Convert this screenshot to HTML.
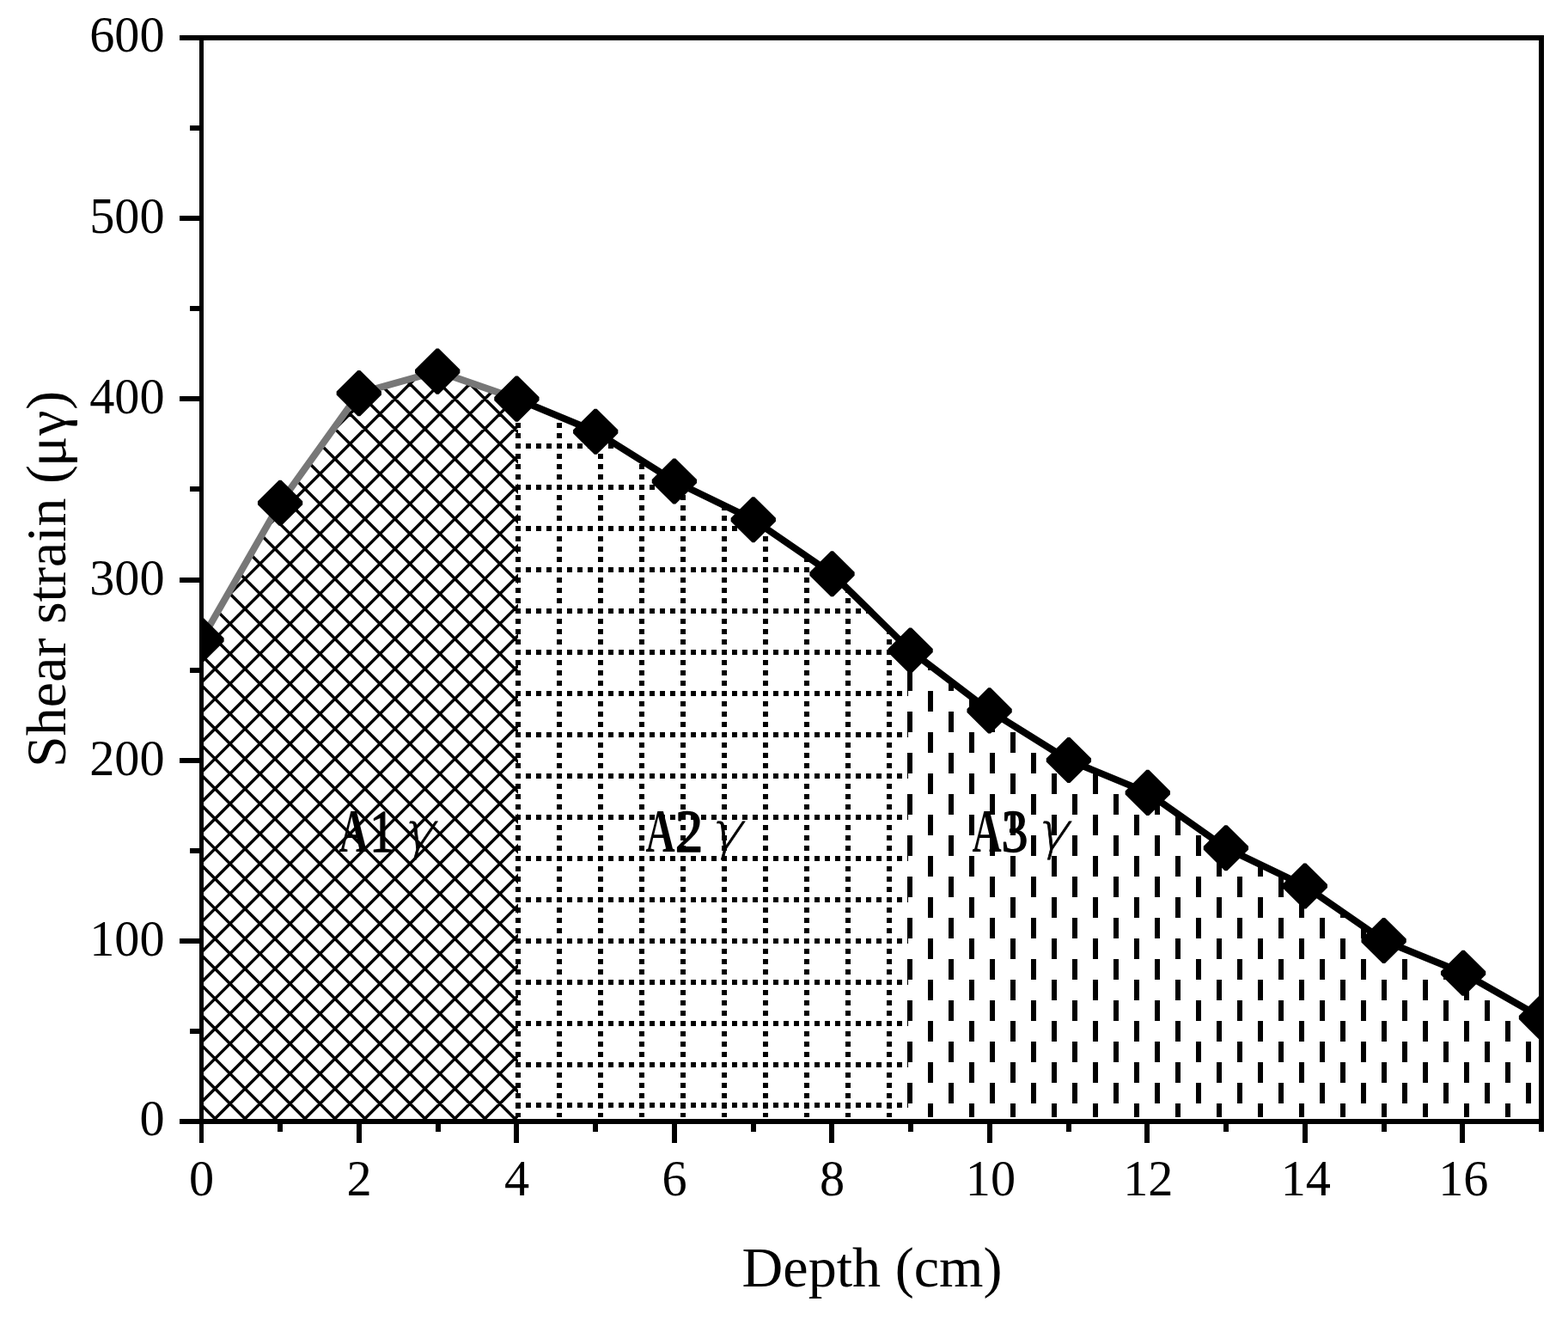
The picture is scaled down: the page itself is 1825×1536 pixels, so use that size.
<!DOCTYPE html>
<html lang="en"><head><meta charset="utf-8"><title>Shear strain vs depth</title>
<style>
html,body{margin:0;padding:0;background:#fff;}
body{width:1825px;height:1536px;overflow:hidden;}
svg{display:block;}
text{font-family:"Liberation Serif", serif;fill:#000;}
</style></head><body>
<svg width="1825" height="1536" viewBox="0 0 1825 1536">
<rect width="1825" height="1536" fill="#fff"/>
<defs>
<clipPath id="c1"><polygon points="234.5,1303.0 234.5,744.6 326.1,585.3 417.8,457.6 509.2,432.1 603.0,464.1 603.0,1303.0"/></clipPath>
<clipPath id="c2"><polygon points="600.0,1300.0 600.0,464.1 693.2,502.3 784.9,560.0 876.8,604.7 968.5,667.7 1057.0,757.0 1057.0,1300.0"/></clipPath>
<clipPath id="c3"><polygon points="1056.0,1300.0 1056.0,757.0 1151.6,826.9 1243.9,884.5 1335.8,922.4 1426.9,986.8 1518.8,1031.0 1610.6,1094.5 1703.1,1132.2 1794.0,1184.1 1794.0,1300.0"/></clipPath>
<clipPath id="cp"><rect x="232.0" y="44.0" width="1565.0" height="1261.0"/></clipPath>
</defs>
<g clip-path="url(#c1)"><path d="M200,-39.85L640,400.15M200,-4.95L640,435.05M200,29.95L640,469.95M200,64.85L640,504.85M200,99.75L640,539.75M200,134.65L640,574.65M200,169.55L640,609.55M200,204.45L640,644.45M200,239.35L640,679.35M200,274.25L640,714.25M200,309.15L640,749.15M200,409.65L640,-30.35M200,344.05L640,784.05M200,444.55L640,4.55M200,378.95L640,818.95M200,479.45L640,39.45M200,413.85L640,853.85M200,514.35L640,74.35M200,448.75L640,888.75M200,549.25L640,109.25M200,483.65L640,923.65M200,584.15L640,144.15M200,518.55L640,958.55M200,619.05L640,179.05M200,553.45L640,993.45M200,653.95L640,213.95M200,588.35L640,1028.35M200,688.85L640,248.85M200,623.25L640,1063.25M200,723.75L640,283.75M200,658.15L640,1098.15M200,758.65L640,318.65M200,693.05L640,1133.05M200,793.55L640,353.55M200,727.95L640,1167.95M200,828.45L640,388.45M200,762.85L640,1202.85M200,863.35L640,423.35M200,797.75L640,1237.75M200,898.25L640,458.25M200,832.65L640,1272.65M200,933.15L640,493.15M200,867.55L640,1307.55M200,968.05L640,528.05M200,902.45L640,1342.45M200,1002.95L640,562.95M200,937.35L640,1377.35M200,1037.85L640,597.85M200,972.25L640,1412.25M200,1072.75L640,632.75M200,1007.15L640,1447.15M200,1107.65L640,667.65M200,1042.05L640,1482.05M200,1142.55L640,702.55M200,1076.95L640,1516.95M200,1177.45L640,737.45M200,1111.85L640,1551.85M200,1212.35L640,772.35M200,1146.75L640,1586.75M200,1247.25L640,807.25M200,1181.65L640,1621.65M200,1282.15L640,842.15M200,1216.55L640,1656.55M200,1317.05L640,877.05M200,1251.45L640,1691.45M200,1351.95L640,911.95M200,1286.35L640,1726.35M200,1386.85L640,946.85M200,1321.25L640,1761.25M200,1421.75L640,981.75M200,1456.65L640,1016.65M200,1491.55L640,1051.55M200,1526.45L640,1086.45M200,1561.35L640,1121.35M200,1596.25L640,1156.25M200,1631.15L640,1191.15M200,1666.05L640,1226.05M200,1700.95L640,1260.95M200,1735.85L640,1295.85M200,1770.75L640,1330.75" fill="none" stroke="#000" stroke-width="3.5"/></g>
<g clip-path="url(#c2)" shape-rendering="crispEdges" fill="none" stroke="#000" stroke-width="6"><rect x="600" y="1295" width="6" height="2" fill="#000" stroke="none"/><rect x="648" y="1295" width="6" height="2" fill="#000" stroke="none"/><rect x="696" y="1295" width="6" height="2" fill="#000" stroke="none"/><rect x="744" y="1295" width="6" height="2" fill="#000" stroke="none"/><rect x="792" y="1295" width="6" height="2" fill="#000" stroke="none"/><rect x="840" y="1295" width="6" height="2" fill="#000" stroke="none"/><rect x="888" y="1295" width="6" height="2" fill="#000" stroke="none"/><rect x="936" y="1295" width="6" height="2" fill="#000" stroke="none"/><rect x="984" y="1295" width="6" height="2" fill="#000" stroke="none"/><rect x="1032" y="1295" width="6" height="2" fill="#000" stroke="none"/><path d="M603,480V1310M651,480V1310M699,480V1310M747,480V1310M795,480V1310M843,480V1310M891,480V1310M939,480V1310M987,480V1310M1035,480V1310" stroke-dasharray="6 6"/><path d="M588,471H1070M588,519H1070M588,567H1070M588,615H1070M588,663H1070M588,711H1070M588,759H1070M588,807H1070M588,855H1070M588,903H1070M588,951H1070M588,999H1070M588,1047H1070M588,1095H1070M588,1143H1070M588,1191H1070M588,1239H1070M588,1286H1070" stroke-dasharray="6 6"/></g>
<g clip-path="url(#c3)" shape-rendering="crispEdges" fill="none" stroke="#000" stroke-width="6" stroke-dasharray="24 24"><path d="M1059,492V1310M1107,492V1310M1155,492V1310M1203,492V1310M1251,492V1310M1299,492V1310M1347,492V1310M1395,492V1310M1443,492V1310M1491,492V1310M1539,492V1310M1587,492V1310M1635,492V1310M1683,492V1310M1731,492V1310M1779,492V1310"/><path d="M1083,516V1310M1131,516V1310M1179,516V1310M1227,516V1310M1275,516V1310M1323,516V1310M1371,516V1310M1419,516V1310M1467,516V1310M1515,516V1310M1563,516V1310M1611,516V1310M1659,516V1310M1707,516V1310M1755,516V1310"/></g>
<g clip-path="url(#cp)">
<polyline points="234.5,744.6 326.1,585.3 417.8,457.6 509.2,432.1 601.4,464.1" fill="none" stroke="#777" stroke-width="8" stroke-linejoin="round"/>
<polyline points="601.4,464.1 693.2,502.3 784.9,560.0 876.8,604.7 968.5,667.7 1059.6,757.0 1151.6,826.9 1243.9,884.5 1335.8,922.4 1426.9,986.8 1518.8,1031.0 1610.6,1094.5 1703.1,1132.2 1794.0,1184.1" fill="none" stroke="#000" stroke-width="8" stroke-linejoin="round"/>
<path d="M233.10,718.05L235.90,718.05L260.65,742.60L260.65,746.60L235.90,771.15L233.10,771.15L208.35,746.60L208.35,742.60ZM324.70,558.75L327.50,558.75L352.25,583.30L352.25,587.30L327.50,611.85L324.70,611.85L299.95,587.30L299.95,583.30ZM416.40,431.05L419.20,431.05L443.95,455.60L443.95,459.60L419.20,484.15L416.40,484.15L391.65,459.60L391.65,455.60ZM507.80,405.55L510.60,405.55L535.35,430.10L535.35,434.10L510.60,458.65L507.80,458.65L483.05,434.10L483.05,430.10ZM600.00,437.55L602.80,437.55L627.55,462.10L627.55,466.10L602.80,490.65L600.00,490.65L575.25,466.10L575.25,462.10ZM691.80,475.75L694.60,475.75L719.35,500.30L719.35,504.30L694.60,528.85L691.80,528.85L667.05,504.30L667.05,500.30ZM783.50,533.45L786.30,533.45L811.05,558.00L811.05,562.00L786.30,586.55L783.50,586.55L758.75,562.00L758.75,558.00ZM875.40,578.15L878.20,578.15L902.95,602.70L902.95,606.70L878.20,631.25L875.40,631.25L850.65,606.70L850.65,602.70ZM967.10,641.15L969.90,641.15L994.65,665.70L994.65,669.70L969.90,694.25L967.10,694.25L942.35,669.70L942.35,665.70ZM1058.20,730.45L1061.00,730.45L1085.75,755.00L1085.75,759.00L1061.00,783.55L1058.20,783.55L1033.45,759.00L1033.45,755.00ZM1150.20,800.35L1153.00,800.35L1177.75,824.90L1177.75,828.90L1153.00,853.45L1150.20,853.45L1125.45,828.90L1125.45,824.90ZM1242.50,857.95L1245.30,857.95L1270.05,882.50L1270.05,886.50L1245.30,911.05L1242.50,911.05L1217.75,886.50L1217.75,882.50ZM1334.40,895.85L1337.20,895.85L1361.95,920.40L1361.95,924.40L1337.20,948.95L1334.40,948.95L1309.65,924.40L1309.65,920.40ZM1425.50,960.25L1428.30,960.25L1453.05,984.80L1453.05,988.80L1428.30,1013.35L1425.50,1013.35L1400.75,988.80L1400.75,984.80ZM1517.40,1004.45L1520.20,1004.45L1544.95,1029.00L1544.95,1033.00L1520.20,1057.55L1517.40,1057.55L1492.65,1033.00L1492.65,1029.00ZM1609.20,1067.95L1612.00,1067.95L1636.75,1092.50L1636.75,1096.50L1612.00,1121.05L1609.20,1121.05L1584.45,1096.50L1584.45,1092.50ZM1701.70,1105.65L1704.50,1105.65L1729.25,1130.20L1729.25,1134.20L1704.50,1158.75L1701.70,1158.75L1676.95,1134.20L1676.95,1130.20ZM1792.60,1157.55L1795.40,1157.55L1820.15,1182.10L1820.15,1186.10L1795.40,1210.65L1792.60,1210.65L1767.85,1186.10L1767.85,1182.10Z" fill="#000"/>
</g>
<g fill="#000" shape-rendering="crispEdges"><rect x="232" y="41" width="5" height="1289"/><rect x="209" y="1302" width="1588" height="6"/><rect x="209" y="41" width="1588" height="6"/><rect x="1791" y="41" width="6" height="1276"/><rect x="221" y="1196.9" width="12" height="6"/><rect x="209" y="1091.8" width="24" height="6"/><rect x="221" y="986.8" width="12" height="6"/><rect x="209" y="881.7" width="24" height="6"/><rect x="221" y="776.6" width="12" height="6"/><rect x="209" y="671.5" width="24" height="6"/><rect x="221" y="566.4" width="12" height="6"/><rect x="209" y="461.3" width="24" height="6"/><rect x="221" y="356.2" width="12" height="6"/><rect x="209" y="251.2" width="24" height="6"/><rect x="221" y="146.1" width="12" height="6"/><rect x="323.2" y="1305" width="6" height="12"/><rect x="415.0" y="1305" width="6" height="25"/><rect x="506.7" y="1305" width="6" height="12"/><rect x="598.4" y="1305" width="6" height="25"/><rect x="690.2" y="1305" width="6" height="12"/><rect x="781.9" y="1305" width="6" height="25"/><rect x="873.6" y="1305" width="6" height="12"/><rect x="965.4" y="1305" width="6" height="25"/><rect x="1057.1" y="1305" width="6" height="12"/><rect x="1148.9" y="1305" width="6" height="25"/><rect x="1240.6" y="1305" width="6" height="12"/><rect x="1332.3" y="1305" width="6" height="25"/><rect x="1424.1" y="1305" width="6" height="12"/><rect x="1515.8" y="1305" width="6" height="25"/><rect x="1607.5" y="1305" width="6" height="12"/><rect x="1699.3" y="1305" width="6" height="25"/></g>
<text x="191.6" y="1320.9" text-anchor="end" font-size="58.3">0</text><text x="191.6" y="1111.8" text-anchor="end" font-size="58.3">100</text><text x="191.6" y="901.7" text-anchor="end" font-size="58.3">200</text><text x="191.6" y="691.5" text-anchor="end" font-size="58.3">300</text><text x="191.6" y="481.3" text-anchor="end" font-size="58.3">400</text><text x="191.6" y="271.2" text-anchor="end" font-size="58.3">500</text><text x="191.6" y="59.9" text-anchor="end" font-size="58.3">600</text><text x="234.7" y="1391.2" text-anchor="middle" font-size="58.3">0</text><text x="418.2" y="1391.2" text-anchor="middle" font-size="58.3">2</text><text x="601.6" y="1391.2" text-anchor="middle" font-size="58.3">4</text><text x="785.1" y="1391.2" text-anchor="middle" font-size="58.3">6</text><text x="968.6" y="1391.2" text-anchor="middle" font-size="58.3">8</text><text x="1152.9" y="1391.2" text-anchor="middle" font-size="58.3">10</text><text x="1336.3" y="1391.2" text-anchor="middle" font-size="58.3">12</text><text x="1519.8" y="1391.2" text-anchor="middle" font-size="58.3">14</text><text x="1703.3" y="1391.2" text-anchor="middle" font-size="58.3">16</text><text x="1015.0" y="1497.3" text-anchor="middle" font-size="66.1">Depth (cm)</text><text transform="translate(75.5 673.8) rotate(-90)" text-anchor="middle" font-size="66" dx="0 0 0 0 0 0 0 0 0 0 0 0 0 0 -2.1 0.9 0.9">Shear strain (μγ)</text>
<text y="991" font-size="71.6"><tspan x="394.50" textLength="34.2" lengthAdjust="spacingAndGlyphs" font-weight="bold">A</tspan><tspan x="430.30" y="990.6" textLength="28.70" lengthAdjust="spacingAndGlyphs" font-size="70.4" stroke="#000" stroke-width="1.5" stroke-linejoin="round">1</tspan></text><text transform="matrix(0.6133 0 0 0.5880 468.11 988.15) skewX(-14)" font-size="100" stroke="#000" stroke-width="1.3" style="font-family:&quot;DejaVu Sans&quot;,&quot;Liberation Serif&quot;,serif;font-weight:200">γ</text>
<text y="991" font-size="71.6"><tspan x="751.40" textLength="34.2" lengthAdjust="spacingAndGlyphs" font-weight="bold">A</tspan><tspan x="785.70" y="990.6" textLength="32.60" lengthAdjust="spacingAndGlyphs" font-size="70.4" stroke="#000" stroke-width="1.5" stroke-linejoin="round">2</tspan></text><text transform="matrix(0.6133 0 0 0.5880 825.81 988.15) skewX(-14)" font-size="100" stroke="#000" stroke-width="1.3" style="font-family:&quot;DejaVu Sans&quot;,&quot;Liberation Serif&quot;,serif;font-weight:200">γ</text>
<text y="991" font-size="71.6"><tspan x="1131.40" textLength="34.2" lengthAdjust="spacingAndGlyphs" font-weight="bold">A</tspan><tspan x="1165.50" y="990.6" textLength="31.00" lengthAdjust="spacingAndGlyphs" font-size="70.4" stroke="#000" stroke-width="1.5" stroke-linejoin="round">3</tspan></text><text transform="matrix(0.6133 0 0 0.5880 1205.81 988.15) skewX(-14)" font-size="100" stroke="#000" stroke-width="1.3" style="font-family:&quot;DejaVu Sans&quot;,&quot;Liberation Serif&quot;,serif;font-weight:200">γ</text>
</svg></body></html>
